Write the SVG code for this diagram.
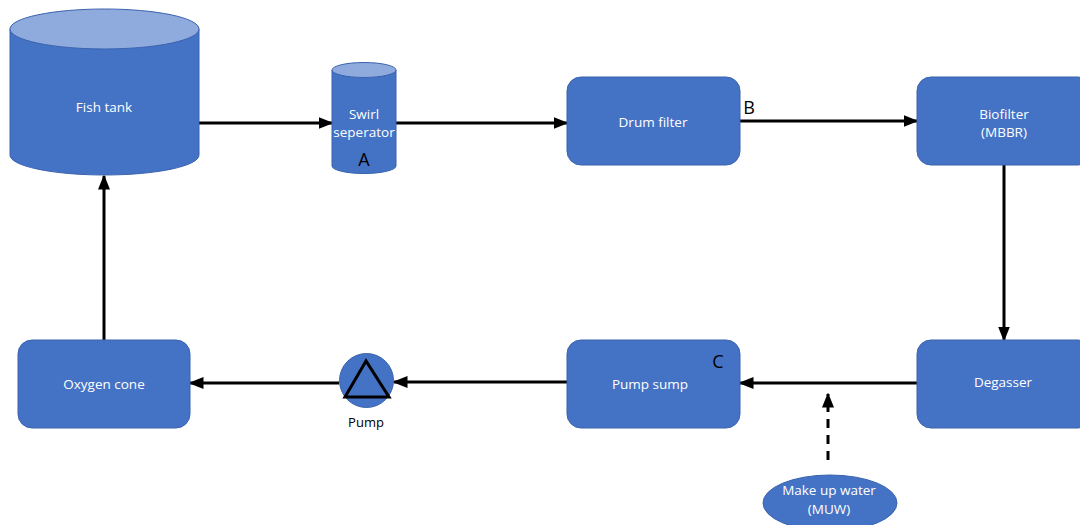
<svg xmlns="http://www.w3.org/2000/svg" width="1080" height="525" viewBox="0 0 1080 525">
<style>
.node{fill:#4472C4;stroke:#3A63AE;stroke-width:1}
.top{fill:#8FAADC;stroke:#3A63AE;stroke-width:1}
.lbl{font-family:"Open Sans","Liberation Sans",sans-serif;font-size:13.5px;fill:#fff;text-anchor:middle}
.let{font-family:"Open Sans","Liberation Sans",sans-serif;font-size:18px;fill:#000;text-anchor:middle}
.blk{font-family:"Open Sans","Liberation Sans",sans-serif;font-size:13px;fill:#000;text-anchor:middle}
.edge{stroke:#000;stroke-width:3;fill:none;marker-end:url(#ah)}
</style>
<defs>
<marker id="ah" markerWidth="5" markerHeight="4" refX="4.5" refY="2" orient="auto" markerUnits="strokeWidth">
<path d="M0,0 L5,2 L0,4 Z" fill="#000"/>
</marker>
</defs>
<rect width="1080" height="525" fill="#fff"/>
<g id="connectors">
<line class="edge" x1="199" y1="123" x2="332" y2="123"/>
<line class="edge" x1="396" y1="123" x2="567" y2="123"/>
<line class="edge" x1="740" y1="121" x2="917" y2="121"/>
<line class="edge" x1="1004" y1="165" x2="1004" y2="340"/>
<line class="edge" x1="917" y1="383" x2="740" y2="383"/>
<line class="edge" x1="567" y1="382" x2="394" y2="382"/>
<line class="edge" x1="339" y1="383" x2="190" y2="383"/>
<line class="edge" x1="104" y1="340" x2="104" y2="176"/>
<line class="edge" x1="828" y1="460" x2="828" y2="394" stroke-dasharray="9,7"/>
</g>
<g id="fish-tank">
<path class="node" d="M10,29 L10,155 A94.5,20 0 0 0 199,155 L199,29 Z"/>
<ellipse class="top" cx="104.5" cy="29" rx="94.5" ry="20"/>
<text class="lbl" x="104" y="112">Fish tank</text>
</g>
<g id="swirl-separator">
<path class="node" d="M332,70 L332,166 A32,7.5 0 0 0 396,166 L396,70 Z"/>
<ellipse class="top" cx="364" cy="70" rx="32" ry="7.5"/>
<text class="lbl" x="364" y="119">Swirl</text>
<text class="lbl" x="364" y="137">seperator</text>
<text class="let" x="364" y="166">A</text>
</g>
<g id="drum-filter">
<rect class="node" x="567" y="77" width="173" height="88" rx="14"/>
<text class="lbl" x="653" y="127">Drum filter</text>
<text class="let" x="749" y="114">B</text>
</g>
<g id="biofilter">
<rect class="node" x="917" y="77" width="175" height="88" rx="14"/>
<text class="lbl" x="1004" y="119">Biofilter</text>
<text class="lbl" x="1004" y="137">(MBBR)</text>
</g>
<g id="degasser">
<rect class="node" x="917" y="340" width="175" height="88" rx="14"/>
<text class="lbl" x="1003" y="387">Degasser</text>
</g>
<g id="pump-sump">
<rect class="node" x="567" y="340" width="173" height="88" rx="14"/>
<text class="lbl" x="650" y="389">Pump sump</text>
<text class="let" x="718" y="368">C</text>
</g>
<g id="pump">
<circle class="node" cx="366.5" cy="380.5" r="27"/>
<polygon points="366,361 345,397 389,397" fill="none" stroke="#000" stroke-width="3" stroke-linejoin="miter"/>
<text class="blk" x="366" y="427">Pump</text>
</g>
<g id="oxygen-cone">
<rect class="node" x="18" y="340" width="172" height="88" rx="14"/>
<text class="lbl" x="104" y="389">Oxygen cone</text>
</g>
<g id="make-up-water">
<ellipse class="node" cx="830" cy="503" rx="67" ry="28"/>
<text class="lbl" x="829" y="495">Make up water</text>
<text class="lbl" x="829" y="514">(MUW)</text>
</g>
</svg>
